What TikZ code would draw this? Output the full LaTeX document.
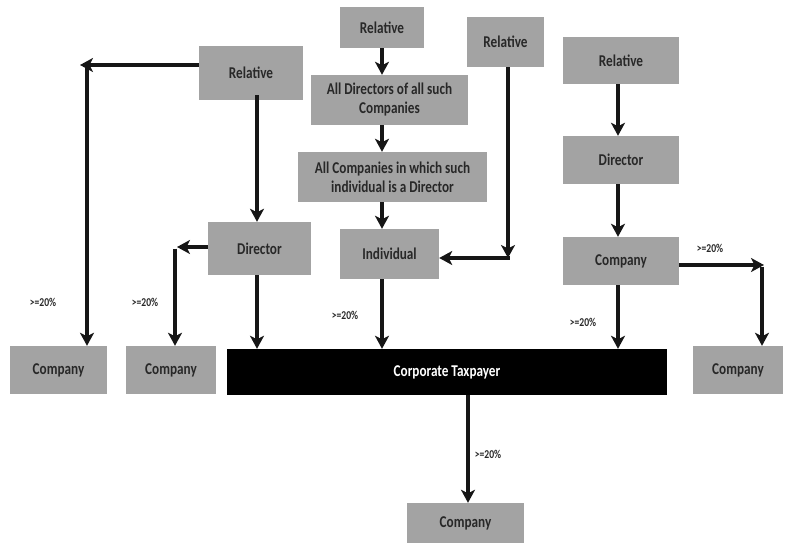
\documentclass[tikz,border=0pt]{standalone}
\usepackage{fontspec}
\setmainfont{Carlito}[FakeStretch=0.8]
\usetikzlibrary{arrows.meta}
\definecolor{boxgray}{RGB}{163,163,163}
\definecolor{txtgray}{RGB}{40,40,40}
\definecolor{linegray}{RGB}{22,22,22}
\begin{document}
\begin{tikzpicture}[x=1pt,y=-1pt,
  box/.style={fill=boxgray,text=txtgray,inner sep=0pt,align=center,
    font=\fontsize{16.5}{19}\selectfont\bfseries},
  taxbox/.style={fill=black,text=white,inner sep=0pt,align=center,
    font=\fontsize{16.5}{19}\selectfont\bfseries},
  conn/.style={draw=linegray,line width=3.3pt},
  arr/.style={conn,-{Stealth[length=13pt,width=14pt,inset=3.5pt]}},
  pct/.style={text=txtgray,font=\fontsize{12}{14}\selectfont\bfseries,inner sep=0pt}]
\useasboundingbox (0,0) rectangle (785,544);
% boxes
\node[box,minimum width=84pt,minimum height=41pt] (rel1) at (382,27.5) {Relative};
\node[box,minimum width=157pt,minimum height=50pt] (alldir) at (389.5,100) {All Directors of all such\\Companies};
\node[box,minimum width=189pt,minimum height=50pt] (allcomp) at (392.5,177) {All Companies in which such\\individual is a Director};
\node[box,minimum width=99pt,minimum height=50pt] (indiv) at (389.5,254) {Individual};
\node[box,minimum width=104pt,minimum height=54pt] (rel2) at (251,73) {Relative};
\node[box,minimum width=103pt,minimum height=53pt] (dir1) at (259.5,248.5) {Director};
\node[box,minimum width=77pt,minimum height=50pt] (rel3) at (505.5,42) {Relative};
\node[box,minimum width=116pt,minimum height=47pt] (rel4) at (621,60.5) {Relative};
\node[box,minimum width=116pt,minimum height=48pt] (dir2) at (621,160) {Director};
\node[box,minimum width=116pt,minimum height=48pt] (comp3) at (621,261) {Company};
\node[box,minimum width=97pt,minimum height=48pt] (comp1) at (58.5,370) {Company};
\node[box,minimum width=90pt,minimum height=48pt] (comp2) at (171,370) {Company};
\node[taxbox,minimum width=440pt,minimum height=46pt] (tax) at (447,372) {Corporate Taxpayer};
\node[box,minimum width=90pt,minimum height=48pt] (comp4) at (738,370) {Company};
\node[box,minimum width=117pt,minimum height=40pt] (comp5) at (465.5,523) {Company};
% helper coordinates
\coordinate (c3) at (508,258);
\coordinate (c2) at (80,65);
\coordinate (c2v) at (87,65);
\coordinate (c1) at (177,247);
\coordinate (c1v) at (175,247);
\coordinate (c4) at (764,265);
\coordinate (c4v) at (762,265);
% centre column
\draw[arr] (rel1.south -| 382,0) -- (alldir.north -| 382,0);
\draw[arr] (alldir.south -| 382,0) -- (allcomp.north -| 382,0);
\draw[arr] (allcomp.south -| 382,0) -- (indiv.north -| 382,0);
\draw[arr] (indiv.south -| 382,0) -- (tax.north -| 382,0);
% relative 3
\draw[arr] (rel3.south -| c3) -- (c3);
\draw[arr] ([xshift=1.6pt]c3) -- (indiv.east |- c3);
% relative 2
\draw[arr] (rel2.west |- c2) -- (c2);
\draw[arr] ([yshift=-2pt]c2v) -- (comp1.north -| c2v);
\draw[arr] ([yshift=5pt]rel2.south -| 257,0) -- (dir1.north -| 257,0);
\draw[arr] (dir1.west |- c1) -- (c1);
\draw[arr] ([yshift=-1.6pt]c1v) -- (comp2.north -| c1v);
\draw[arr] (dir1.south -| 257,0) -- (tax.north -| 257,0);
% right column
\draw[arr] (rel4.south -| 618,0) -- (dir2.north -| 618,0);
\draw[arr] (dir2.south -| 618,0) -- (comp3.north -| 618,0);
\draw[arr] (comp3.south -| 618,0) -- (tax.north -| 618,0);
\draw[arr] (comp3.east |- c4) -- (c4);
\draw[arr] ([yshift=-1.6pt]c4v) -- (comp4.north -| c4v);
% bottom
\draw[arr] (tax.south -| 468,0) -- (comp5.north -| 468,0);
% labels
\node[pct] (p1) at (43,302) {>=20\%};
\node[pct] (p2) at (145,302) {>=20\%};
\node[pct] (p3) at (345,315) {>=20\%};
\node[pct] (p4) at (583,322) {>=20\%};
\node[pct] (p5) at (710,248) {>=20\%};
\node[pct] (p6) at (488,454) {>=20\%};
\end{tikzpicture}
\end{document}
